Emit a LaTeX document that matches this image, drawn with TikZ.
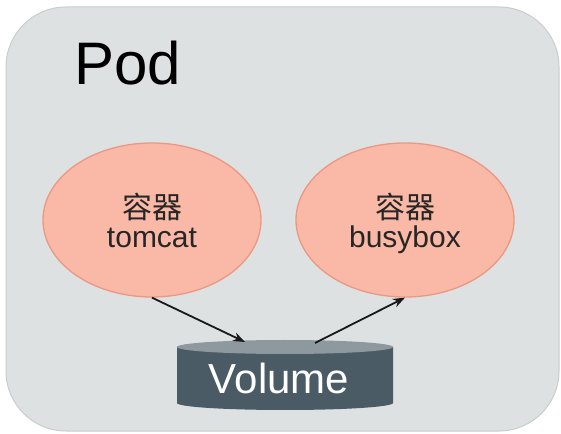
\documentclass[tikz,border=0pt]{standalone}
\usepackage{fontspec}
\setmainfont{Liberation Sans}
\newfontfamily\cjk{Noto Sans CJK SC}
\usetikzlibrary{shapes.geometric,arrows.meta}
\definecolor{podfill}{HTML}{DDE1E2}
\definecolor{podline}{HTML}{C9CDCE}
\definecolor{cfill}{HTML}{F9B9A6}
\definecolor{cline}{HTML}{EB9883}
\definecolor{vdark}{HTML}{4B5B66}
\definecolor{vtop}{HTML}{8D989F}
\tikzset{
  container/.style={ellipse, draw=cline, line width=1.3pt, fill=cfill,
    minimum width=218pt, minimum height=154pt, inner sep=0pt},
  clabel/.style={anchor=base, inner sep=0pt, font=\fontsize{30}{30}\selectfont, text=black!85},
  conn/.style={-{Stealth[length=12pt,width=9pt]}, line width=1.8pt, black!90},
}
\begin{document}
\begin{tikzpicture}[x=1pt,y=1pt]
\useasboundingbox (0,0) rectangle (561,433);
\fill[white] (0,0) rectangle (561,433);
\draw[podline, fill=podfill, rounded corners=60pt, line width=1pt] (6,2) rectangle (559,426);
\node[anchor=base west, font=\fontsize{60}{60}\selectfont, inner sep=0pt] (pod) at (74,348) {Pod};
\node[container] (tomcat) at (152,213) {};
\node[container] (busybox) at (405,213) {};
\node[clabel, font=\cjk\fontsize{30}{30}\selectfont] (c1) at (152,214) {容器};
\node[clabel] (t1) at (152,185) {tomcat};
\node[clabel, font=\cjk\fontsize{30}{30}\selectfont] (c2) at (405,214) {容器};
\node[clabel] (t2) at (405,185) {busybox};
% volume cylinder
\fill[vdark] (177,86) -- (177,30) arc[start angle=180, end angle=360, x radius=108, y radius=7] -- (393,86) -- cycle;
\fill[vtop] (285,86) ellipse[x radius=108, y radius=7];
\node[inner sep=0pt, font=\fontsize{42}{42}\selectfont, text=white] (vol) at (279,55) {Volume};
\coordinate (vin) at (245,91);
\coordinate (vout) at (315,90);
\draw[conn] (tomcat.south) -- (vin);
\draw[conn] (vout) -- (busybox.south);
\end{tikzpicture}
\end{document}
